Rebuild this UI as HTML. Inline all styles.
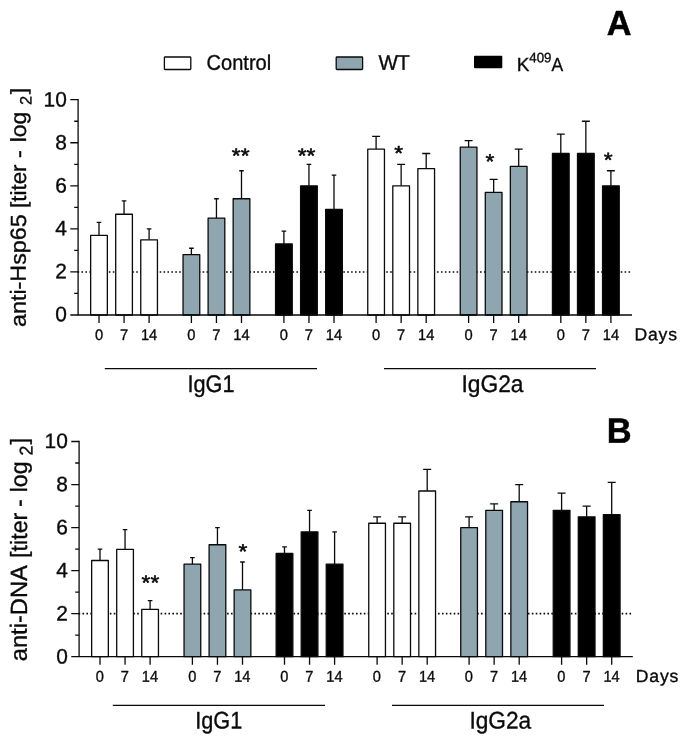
<!DOCTYPE html>
<html lang="en">
<head>
<meta charset="utf-8">
<title>Figure</title>
<style>
html,body{margin:0;padding:0;background:#fff;}
body{width:685px;height:738px;overflow:hidden;}
svg{display:block;font-family:"Liberation Sans", sans-serif;fill:#0a0a0a;}
text{stroke:#0a0a0a;stroke-width:0.35px;stroke-linejoin:round;}
</style>
</head>
<body>
<svg width="685" height="738" viewBox="0 0 685 738">
<rect x="0" y="0" width="685" height="738" fill="#fff" stroke="none"/>
<line x1="77.6" y1="271.94" x2="630.5" y2="271.94" stroke="#0a0a0a" stroke-width="1.6" stroke-dasharray="1.6 2.307"/>
<path d="M99.00 235.34V222.42M96.70 222.42H101.30" stroke="#0a0a0a" stroke-width="1.3" fill="none"/>
<rect x="90.65" y="235.34" width="16.7" height="79.66" fill="#ffffff" stroke="#0a0a0a" stroke-width="1.3" stroke-linejoin="round"/>
<path d="M124.05 214.24V200.89M121.75 200.89H126.35" stroke="#0a0a0a" stroke-width="1.3" fill="none"/>
<rect x="115.70" y="214.24" width="16.7" height="100.76" fill="#ffffff" stroke="#0a0a0a" stroke-width="1.3" stroke-linejoin="round"/>
<path d="M149.10 239.86V228.88M146.80 228.88H151.40" stroke="#0a0a0a" stroke-width="1.3" fill="none"/>
<rect x="140.75" y="239.86" width="16.7" height="75.14" fill="#ffffff" stroke="#0a0a0a" stroke-width="1.3" stroke-linejoin="round"/>
<path d="M191.40 254.72V248.26M189.10 248.26H193.70" stroke="#0a0a0a" stroke-width="1.3" fill="none"/>
<rect x="183.05" y="254.72" width="16.7" height="60.28" fill="#8fa5b0" stroke="#0a0a0a" stroke-width="1.3" stroke-linejoin="round"/>
<path d="M216.45 218.12V198.74M214.15 198.74H218.75" stroke="#0a0a0a" stroke-width="1.3" fill="none"/>
<rect x="208.10" y="218.12" width="16.7" height="96.88" fill="#8fa5b0" stroke="#0a0a0a" stroke-width="1.3" stroke-linejoin="round"/>
<path d="M241.50 198.74V170.75M239.20 170.75H243.80" stroke="#0a0a0a" stroke-width="1.3" fill="none"/>
<rect x="233.15" y="198.74" width="16.7" height="116.26" fill="#8fa5b0" stroke="#0a0a0a" stroke-width="1.3" stroke-linejoin="round"/>
<path d="M283.90 243.95V231.03M281.60 231.03H286.20" stroke="#0a0a0a" stroke-width="1.3" fill="none"/>
<rect x="275.55" y="243.95" width="16.7" height="71.05" fill="#000000" stroke="#0a0a0a" stroke-width="1.3" stroke-linejoin="round"/>
<path d="M308.95 185.82V164.29M306.65 164.29H311.25" stroke="#0a0a0a" stroke-width="1.3" fill="none"/>
<rect x="300.60" y="185.82" width="16.7" height="129.18" fill="#000000" stroke="#0a0a0a" stroke-width="1.3" stroke-linejoin="round"/>
<path d="M334.00 209.50V175.06M331.70 175.06H336.30" stroke="#0a0a0a" stroke-width="1.3" fill="none"/>
<rect x="325.65" y="209.50" width="16.7" height="105.50" fill="#000000" stroke="#0a0a0a" stroke-width="1.3" stroke-linejoin="round"/>
<path d="M376.10 149.22V136.30M372.10 136.30H380.10" stroke="#0a0a0a" stroke-width="1.3" fill="none"/>
<rect x="367.75" y="149.22" width="16.7" height="165.78" fill="#ffffff" stroke="#0a0a0a" stroke-width="1.3" stroke-linejoin="round"/>
<path d="M401.15 185.82V164.29M397.15 164.29H405.15" stroke="#0a0a0a" stroke-width="1.3" fill="none"/>
<rect x="392.80" y="185.82" width="16.7" height="129.18" fill="#ffffff" stroke="#0a0a0a" stroke-width="1.3" stroke-linejoin="round"/>
<path d="M426.20 168.60V153.52M422.20 153.52H430.20" stroke="#0a0a0a" stroke-width="1.3" fill="none"/>
<rect x="417.85" y="168.60" width="16.7" height="146.40" fill="#ffffff" stroke="#0a0a0a" stroke-width="1.3" stroke-linejoin="round"/>
<path d="M468.60 147.07V140.61M464.60 140.61H472.60" stroke="#0a0a0a" stroke-width="1.3" fill="none"/>
<rect x="460.25" y="147.07" width="16.7" height="167.93" fill="#8fa5b0" stroke="#0a0a0a" stroke-width="1.3" stroke-linejoin="round"/>
<path d="M493.65 192.28V179.36M489.65 179.36H497.65" stroke="#0a0a0a" stroke-width="1.3" fill="none"/>
<rect x="485.30" y="192.28" width="16.7" height="122.72" fill="#8fa5b0" stroke="#0a0a0a" stroke-width="1.3" stroke-linejoin="round"/>
<path d="M518.70 166.44V149.22M514.70 149.22H522.70" stroke="#0a0a0a" stroke-width="1.3" fill="none"/>
<rect x="510.35" y="166.44" width="16.7" height="148.56" fill="#8fa5b0" stroke="#0a0a0a" stroke-width="1.3" stroke-linejoin="round"/>
<path d="M560.80 153.52V134.15M556.80 134.15H564.80" stroke="#0a0a0a" stroke-width="1.3" fill="none"/>
<rect x="552.45" y="153.52" width="16.7" height="161.48" fill="#000000" stroke="#0a0a0a" stroke-width="1.3" stroke-linejoin="round"/>
<path d="M585.85 153.52V121.23M581.85 121.23H589.85" stroke="#0a0a0a" stroke-width="1.3" fill="none"/>
<rect x="577.50" y="153.52" width="16.7" height="161.48" fill="#000000" stroke="#0a0a0a" stroke-width="1.3" stroke-linejoin="round"/>
<path d="M610.90 185.82V170.75M606.90 170.75H614.90" stroke="#0a0a0a" stroke-width="1.3" fill="none"/>
<rect x="602.55" y="185.82" width="16.7" height="129.18" fill="#000000" stroke="#0a0a0a" stroke-width="1.3" stroke-linejoin="round"/>
<path d="M78.1 99.05V315.00M77.44999999999999 315.00H632.0" stroke="#0a0a0a" stroke-width="1.3" fill="none"/>
<path d="M70.3 315.00H78.1M74.19999999999999 293.47H78.1M70.3 271.94H78.1M74.19999999999999 250.41H78.1M70.3 228.88H78.1M74.19999999999999 207.35H78.1M70.3 185.82H78.1M74.19999999999999 164.29H78.1M70.3 142.76H78.1M74.19999999999999 121.23H78.1M70.3 99.70H78.1M99.00 315.00V323.00M124.05 315.00V323.00M149.10 315.00V323.00M191.40 315.00V323.00M216.45 315.00V323.00M241.50 315.00V323.00M283.90 315.00V323.00M308.95 315.00V323.00M334.00 315.00V323.00M376.10 315.00V323.00M401.15 315.00V323.00M426.20 315.00V323.00M468.60 315.00V323.00M493.65 315.00V323.00M518.70 315.00V323.00M560.80 315.00V323.00M585.85 315.00V323.00M610.90 315.00V323.00" stroke="#0a0a0a" stroke-width="1.3" fill="none"/>
<text transform="translate(66.80 321.20) rotate(0.03)" font-size="20.9" text-anchor="end">0</text>
<text transform="translate(66.80 278.28) rotate(0.03)" font-size="20.9" text-anchor="end">2</text>
<text transform="translate(66.80 235.36) rotate(0.03)" font-size="20.9" text-anchor="end">4</text>
<text transform="translate(66.80 192.44) rotate(0.03)" font-size="20.9" text-anchor="end">6</text>
<text transform="translate(66.80 149.52) rotate(0.03)" font-size="20.9" text-anchor="end">8</text>
<text transform="translate(66.80 106.60) rotate(0.03)" font-size="20.9" text-anchor="end">10</text>
<text transform="translate(99.00 339.90) rotate(0.03) scale(0.96 1.0)" font-size="15.3" text-anchor="middle">0</text>
<text transform="translate(124.05 339.90) rotate(0.03) scale(0.96 1.0)" font-size="15.3" text-anchor="middle">7</text>
<text transform="translate(149.10 339.90) rotate(0.03) scale(0.96 1.0)" font-size="15.3" text-anchor="middle">14</text>
<text transform="translate(191.40 339.90) rotate(0.03) scale(0.96 1.0)" font-size="15.3" text-anchor="middle">0</text>
<text transform="translate(216.45 339.90) rotate(0.03) scale(0.96 1.0)" font-size="15.3" text-anchor="middle">7</text>
<text transform="translate(241.50 339.90) rotate(0.03) scale(0.96 1.0)" font-size="15.3" text-anchor="middle">14</text>
<text transform="translate(283.90 339.90) rotate(0.03) scale(0.96 1.0)" font-size="15.3" text-anchor="middle">0</text>
<text transform="translate(308.95 339.90) rotate(0.03) scale(0.96 1.0)" font-size="15.3" text-anchor="middle">7</text>
<text transform="translate(334.00 339.90) rotate(0.03) scale(0.96 1.0)" font-size="15.3" text-anchor="middle">14</text>
<text transform="translate(376.10 339.90) rotate(0.03) scale(0.96 1.0)" font-size="15.3" text-anchor="middle">0</text>
<text transform="translate(401.15 339.90) rotate(0.03) scale(0.96 1.0)" font-size="15.3" text-anchor="middle">7</text>
<text transform="translate(426.20 339.90) rotate(0.03) scale(0.96 1.0)" font-size="15.3" text-anchor="middle">14</text>
<text transform="translate(468.60 339.90) rotate(0.03) scale(0.96 1.0)" font-size="15.3" text-anchor="middle">0</text>
<text transform="translate(493.65 339.90) rotate(0.03) scale(0.96 1.0)" font-size="15.3" text-anchor="middle">7</text>
<text transform="translate(518.70 339.90) rotate(0.03) scale(0.96 1.0)" font-size="15.3" text-anchor="middle">14</text>
<text transform="translate(560.80 339.90) rotate(0.03) scale(0.96 1.0)" font-size="15.3" text-anchor="middle">0</text>
<text transform="translate(585.85 339.90) rotate(0.03) scale(0.96 1.0)" font-size="15.3" text-anchor="middle">7</text>
<text transform="translate(610.90 339.90) rotate(0.03) scale(0.96 1.0)" font-size="15.3" text-anchor="middle">14</text>
<text transform="translate(634.50 340.20) rotate(0.03)" font-size="17.6" letter-spacing="0.8">Days</text>
<text transform="translate(240.70 162.70) rotate(0.03) scale(1.09 1.0)" font-size="20.8" text-anchor="middle" style="stroke-width:0.55px">**</text>
<text transform="translate(306.50 162.70) rotate(0.03) scale(1.09 1.0)" font-size="20.8" text-anchor="middle" style="stroke-width:0.55px">**</text>
<text transform="translate(398.70 160.30) rotate(0.03) scale(1.09 1.0)" font-size="20.8" text-anchor="middle" style="stroke-width:0.55px">*</text>
<text transform="translate(490.00 168.50) rotate(0.03) scale(1.09 1.0)" font-size="20.8" text-anchor="middle" style="stroke-width:0.55px">*</text>
<text transform="translate(608.10 166.90) rotate(0.03) scale(1.09 1.0)" font-size="20.8" text-anchor="middle" style="stroke-width:0.55px">*</text>
<g transform="translate(26.0 0) rotate(-89.97)"><text transform="translate(-327.00 0) scale(1.064 1)" font-size="21.9">anti-Hsp65</text><text transform="translate(-207.90 0) scale(1.02 1)" font-size="21.9">[titer</text><text transform="translate(-158.00 0) scale(1.064 1)" font-size="21.9">-</text><text transform="translate(-142.30 0) scale(1.045 1)" font-size="21.9">log</text><text transform="translate(-105.00 5.5) scale(1.0 1)" font-size="16.5">2</text><text transform="translate(-94.30 0) scale(1.064 1)" font-size="21.9">]</text></g>
<line x1="78.6" y1="613.62" x2="631.3" y2="613.62" stroke="#0a0a0a" stroke-width="1.6" stroke-dasharray="1.6 2.307"/>
<path d="M100.00 560.48V549.08M97.70 549.08H102.30" stroke="#0a0a0a" stroke-width="1.3" fill="none"/>
<rect x="91.65" y="560.48" width="16.7" height="96.17" fill="#ffffff" stroke="#0a0a0a" stroke-width="1.3" stroke-linejoin="round"/>
<path d="M125.05 549.40V529.71M122.75 529.71H127.35" stroke="#0a0a0a" stroke-width="1.3" fill="none"/>
<rect x="116.70" y="549.40" width="16.7" height="107.25" fill="#ffffff" stroke="#0a0a0a" stroke-width="1.3" stroke-linejoin="round"/>
<path d="M150.10 609.32V600.71M147.80 600.71H152.40" stroke="#0a0a0a" stroke-width="1.3" fill="none"/>
<rect x="141.75" y="609.32" width="16.7" height="47.33" fill="#ffffff" stroke="#0a0a0a" stroke-width="1.3" stroke-linejoin="round"/>
<path d="M192.40 564.14V557.68M190.10 557.68H194.70" stroke="#0a0a0a" stroke-width="1.3" fill="none"/>
<rect x="184.05" y="564.14" width="16.7" height="92.51" fill="#8fa5b0" stroke="#0a0a0a" stroke-width="1.3" stroke-linejoin="round"/>
<path d="M217.45 544.77V527.56M215.15 527.56H219.75" stroke="#0a0a0a" stroke-width="1.3" fill="none"/>
<rect x="209.10" y="544.77" width="16.7" height="111.88" fill="#8fa5b0" stroke="#0a0a0a" stroke-width="1.3" stroke-linejoin="round"/>
<path d="M242.50 589.95V561.98M240.20 561.98H244.80" stroke="#0a0a0a" stroke-width="1.3" fill="none"/>
<rect x="234.15" y="589.95" width="16.7" height="66.70" fill="#8fa5b0" stroke="#0a0a0a" stroke-width="1.3" stroke-linejoin="round"/>
<path d="M284.50 553.38V546.92M282.20 546.92H286.80" stroke="#0a0a0a" stroke-width="1.3" fill="none"/>
<rect x="276.15" y="553.38" width="16.7" height="103.27" fill="#000000" stroke="#0a0a0a" stroke-width="1.3" stroke-linejoin="round"/>
<path d="M309.55 531.86V510.35M307.25 510.35H311.85" stroke="#0a0a0a" stroke-width="1.3" fill="none"/>
<rect x="301.20" y="531.86" width="16.7" height="124.79" fill="#000000" stroke="#0a0a0a" stroke-width="1.3" stroke-linejoin="round"/>
<path d="M334.60 564.14V531.86M332.30 531.86H336.90" stroke="#0a0a0a" stroke-width="1.3" fill="none"/>
<rect x="326.25" y="564.14" width="16.7" height="92.51" fill="#000000" stroke="#0a0a0a" stroke-width="1.3" stroke-linejoin="round"/>
<path d="M377.10 523.26V516.80M373.10 516.80H381.10" stroke="#0a0a0a" stroke-width="1.3" fill="none"/>
<rect x="368.75" y="523.26" width="16.7" height="133.39" fill="#ffffff" stroke="#0a0a0a" stroke-width="1.3" stroke-linejoin="round"/>
<path d="M402.15 523.26V516.80M398.15 516.80H406.15" stroke="#0a0a0a" stroke-width="1.3" fill="none"/>
<rect x="393.80" y="523.26" width="16.7" height="133.39" fill="#ffffff" stroke="#0a0a0a" stroke-width="1.3" stroke-linejoin="round"/>
<path d="M427.20 490.98V469.47M423.20 469.47H431.20" stroke="#0a0a0a" stroke-width="1.3" fill="none"/>
<rect x="418.85" y="490.98" width="16.7" height="165.67" fill="#ffffff" stroke="#0a0a0a" stroke-width="1.3" stroke-linejoin="round"/>
<path d="M469.10 527.56V516.80M465.10 516.80H473.10" stroke="#0a0a0a" stroke-width="1.3" fill="none"/>
<rect x="460.75" y="527.56" width="16.7" height="129.09" fill="#8fa5b0" stroke="#0a0a0a" stroke-width="1.3" stroke-linejoin="round"/>
<path d="M494.15 510.35V503.89M490.15 503.89H498.15" stroke="#0a0a0a" stroke-width="1.3" fill="none"/>
<rect x="485.80" y="510.35" width="16.7" height="146.30" fill="#8fa5b0" stroke="#0a0a0a" stroke-width="1.3" stroke-linejoin="round"/>
<path d="M519.20 501.74V484.53M515.20 484.53H523.20" stroke="#0a0a0a" stroke-width="1.3" fill="none"/>
<rect x="510.85" y="501.74" width="16.7" height="154.91" fill="#8fa5b0" stroke="#0a0a0a" stroke-width="1.3" stroke-linejoin="round"/>
<path d="M561.60 510.35V493.14M557.60 493.14H565.60" stroke="#0a0a0a" stroke-width="1.3" fill="none"/>
<rect x="553.25" y="510.35" width="16.7" height="146.30" fill="#000000" stroke="#0a0a0a" stroke-width="1.3" stroke-linejoin="round"/>
<path d="M586.65 516.80V506.04M582.65 506.04H590.65" stroke="#0a0a0a" stroke-width="1.3" fill="none"/>
<rect x="578.30" y="516.80" width="16.7" height="139.85" fill="#000000" stroke="#0a0a0a" stroke-width="1.3" stroke-linejoin="round"/>
<path d="M611.70 514.65V482.38M607.70 482.38H615.70" stroke="#0a0a0a" stroke-width="1.3" fill="none"/>
<rect x="603.35" y="514.65" width="16.7" height="142.00" fill="#000000" stroke="#0a0a0a" stroke-width="1.3" stroke-linejoin="round"/>
<path d="M79.1 440.85V656.65M78.44999999999999 656.65H632.8" stroke="#0a0a0a" stroke-width="1.3" fill="none"/>
<path d="M71.3 656.65H79.1M75.19999999999999 635.13H79.1M71.3 613.62H79.1M75.19999999999999 592.11H79.1M71.3 570.59H79.1M75.19999999999999 549.08H79.1M71.3 527.56H79.1M75.19999999999999 506.04H79.1M71.3 484.53H79.1M75.19999999999999 463.01H79.1M71.3 441.50H79.1M100.00 656.65V664.65M125.05 656.65V664.65M150.10 656.65V664.65M192.40 656.65V664.65M217.45 656.65V664.65M242.50 656.65V664.65M284.50 656.65V664.65M309.55 656.65V664.65M334.60 656.65V664.65M377.10 656.65V664.65M402.15 656.65V664.65M427.20 656.65V664.65M469.10 656.65V664.65M494.15 656.65V664.65M519.20 656.65V664.65M561.60 656.65V664.65M586.65 656.65V664.65M611.70 656.65V664.65" stroke="#0a0a0a" stroke-width="1.3" fill="none"/>
<text transform="translate(67.80 663.55) rotate(0.03)" font-size="20.9" text-anchor="end">0</text>
<text transform="translate(67.80 620.46) rotate(0.03)" font-size="20.9" text-anchor="end">2</text>
<text transform="translate(67.80 577.37) rotate(0.03)" font-size="20.9" text-anchor="end">4</text>
<text transform="translate(67.80 534.28) rotate(0.03)" font-size="20.9" text-anchor="end">6</text>
<text transform="translate(67.80 491.19) rotate(0.03)" font-size="20.9" text-anchor="end">8</text>
<text transform="translate(67.80 448.10) rotate(0.03)" font-size="20.9" text-anchor="end">10</text>
<text transform="translate(99.80 681.65) rotate(0.03) scale(0.93 1.0)" font-size="15.7" text-anchor="middle">0</text>
<text transform="translate(124.85 681.65) rotate(0.03) scale(0.93 1.0)" font-size="15.7" text-anchor="middle">7</text>
<text transform="translate(149.90 681.65) rotate(0.03) scale(0.93 1.0)" font-size="15.7" text-anchor="middle">14</text>
<text transform="translate(192.20 681.65) rotate(0.03) scale(0.93 1.0)" font-size="15.7" text-anchor="middle">0</text>
<text transform="translate(217.25 681.65) rotate(0.03) scale(0.93 1.0)" font-size="15.7" text-anchor="middle">7</text>
<text transform="translate(242.30 681.65) rotate(0.03) scale(0.93 1.0)" font-size="15.7" text-anchor="middle">14</text>
<text transform="translate(284.30 681.65) rotate(0.03) scale(0.93 1.0)" font-size="15.7" text-anchor="middle">0</text>
<text transform="translate(309.35 681.65) rotate(0.03) scale(0.93 1.0)" font-size="15.7" text-anchor="middle">7</text>
<text transform="translate(334.40 681.65) rotate(0.03) scale(0.93 1.0)" font-size="15.7" text-anchor="middle">14</text>
<text transform="translate(376.90 681.65) rotate(0.03) scale(0.93 1.0)" font-size="15.7" text-anchor="middle">0</text>
<text transform="translate(401.95 681.65) rotate(0.03) scale(0.93 1.0)" font-size="15.7" text-anchor="middle">7</text>
<text transform="translate(427.00 681.65) rotate(0.03) scale(0.93 1.0)" font-size="15.7" text-anchor="middle">14</text>
<text transform="translate(468.90 681.65) rotate(0.03) scale(0.93 1.0)" font-size="15.7" text-anchor="middle">0</text>
<text transform="translate(493.95 681.65) rotate(0.03) scale(0.93 1.0)" font-size="15.7" text-anchor="middle">7</text>
<text transform="translate(519.00 681.65) rotate(0.03) scale(0.93 1.0)" font-size="15.7" text-anchor="middle">14</text>
<text transform="translate(561.40 681.65) rotate(0.03) scale(0.93 1.0)" font-size="15.7" text-anchor="middle">0</text>
<text transform="translate(586.45 681.65) rotate(0.03) scale(0.93 1.0)" font-size="15.7" text-anchor="middle">7</text>
<text transform="translate(611.50 681.65) rotate(0.03) scale(0.93 1.0)" font-size="15.7" text-anchor="middle">14</text>
<text transform="translate(635.80 681.95) rotate(0.03)" font-size="17.6" letter-spacing="0.8">Days</text>
<text transform="translate(150.40 589.80) rotate(0.03) scale(1.09 1.0)" font-size="20.8" text-anchor="middle" style="stroke-width:0.55px">**</text>
<text transform="translate(242.80 558.40) rotate(0.03) scale(1.09 1.0)" font-size="20.8" text-anchor="middle" style="stroke-width:0.55px">*</text>
<g transform="translate(27.2 0) rotate(-89.97)"><text transform="translate(-661.30 0) scale(1.01 1)" font-size="23.5">anti-DNA</text><text transform="translate(-557.90 0) scale(0.99 1)" font-size="23.5">[titer</text><text transform="translate(-507.10 0) scale(1.01 1)" font-size="23.5">-</text><text transform="translate(-492.30 0) scale(0.985 1)" font-size="23.5">log</text><text transform="translate(-455.40 5.5) scale(0.96 1)" font-size="18.5">2</text><text transform="translate(-444.50 0) scale(1.01 1)" font-size="23.5">]</text></g>
<rect x="164.4" y="57" width="26.4" height="12.5" rx="0.8" fill="#fff" stroke="#0a0a0a" stroke-width="1.3"/>
<text transform="translate(206.60 69.80) rotate(0.03) scale(0.945 1.0)" font-size="21.2">Control</text>
<rect x="336.2" y="57" width="26.4" height="12.5" rx="0.8" fill="#8fa5b0" stroke="#0a0a0a" stroke-width="1.3"/>
<text transform="translate(378.60 69.80) rotate(0.03) scale(0.97 1.0)" font-size="21.2" letter-spacing="-0.8">WT</text>
<rect x="474" y="55.7" width="28.3" height="12.5" rx="1" fill="#000"/>
<text transform="translate(516.80 70.90) rotate(0.03)" font-size="19.0">K</text>
<text transform="translate(529.30 62.20) rotate(0.03) scale(0.97 1.0)" font-size="13.7">409</text>
<text transform="translate(551.60 70.90) rotate(0.03) scale(0.92 1.0)" font-size="19.0">A</text>
<text transform="translate(606.70 35.10) rotate(0.03) scale(0.984 1.0)" font-size="34.8" font-weight="bold" style="fill:#000;stroke:#000;stroke-width:0.5px">A</text>
<text transform="translate(606.80 442.70) rotate(0.03) scale(0.973 1.0)" font-size="35.4" font-weight="bold" style="fill:#000;stroke:#000;stroke-width:0.5px">B</text>
<path d="M104.8 368.6H317M384 368.6H596M112.8 705.3H325M392 705.3H604" stroke="#0a0a0a" stroke-width="1.3" fill="none"/>
<text transform="translate(211.00 392.00) rotate(0.03) scale(0.905 1.0)" font-size="24.0" text-anchor="middle">IgG1</text>
<text transform="translate(492.50 392.00) rotate(0.03) scale(0.95 1.0)" font-size="24.0" text-anchor="middle">IgG2a</text>
<text transform="translate(218.80 728.40) rotate(0.03) scale(0.905 1.0)" font-size="24.0" text-anchor="middle">IgG1</text>
<text transform="translate(500.30 728.50) rotate(0.03) scale(0.945 1.0)" font-size="24.0" text-anchor="middle">IgG2a</text>
</svg>
</body>
</html>
